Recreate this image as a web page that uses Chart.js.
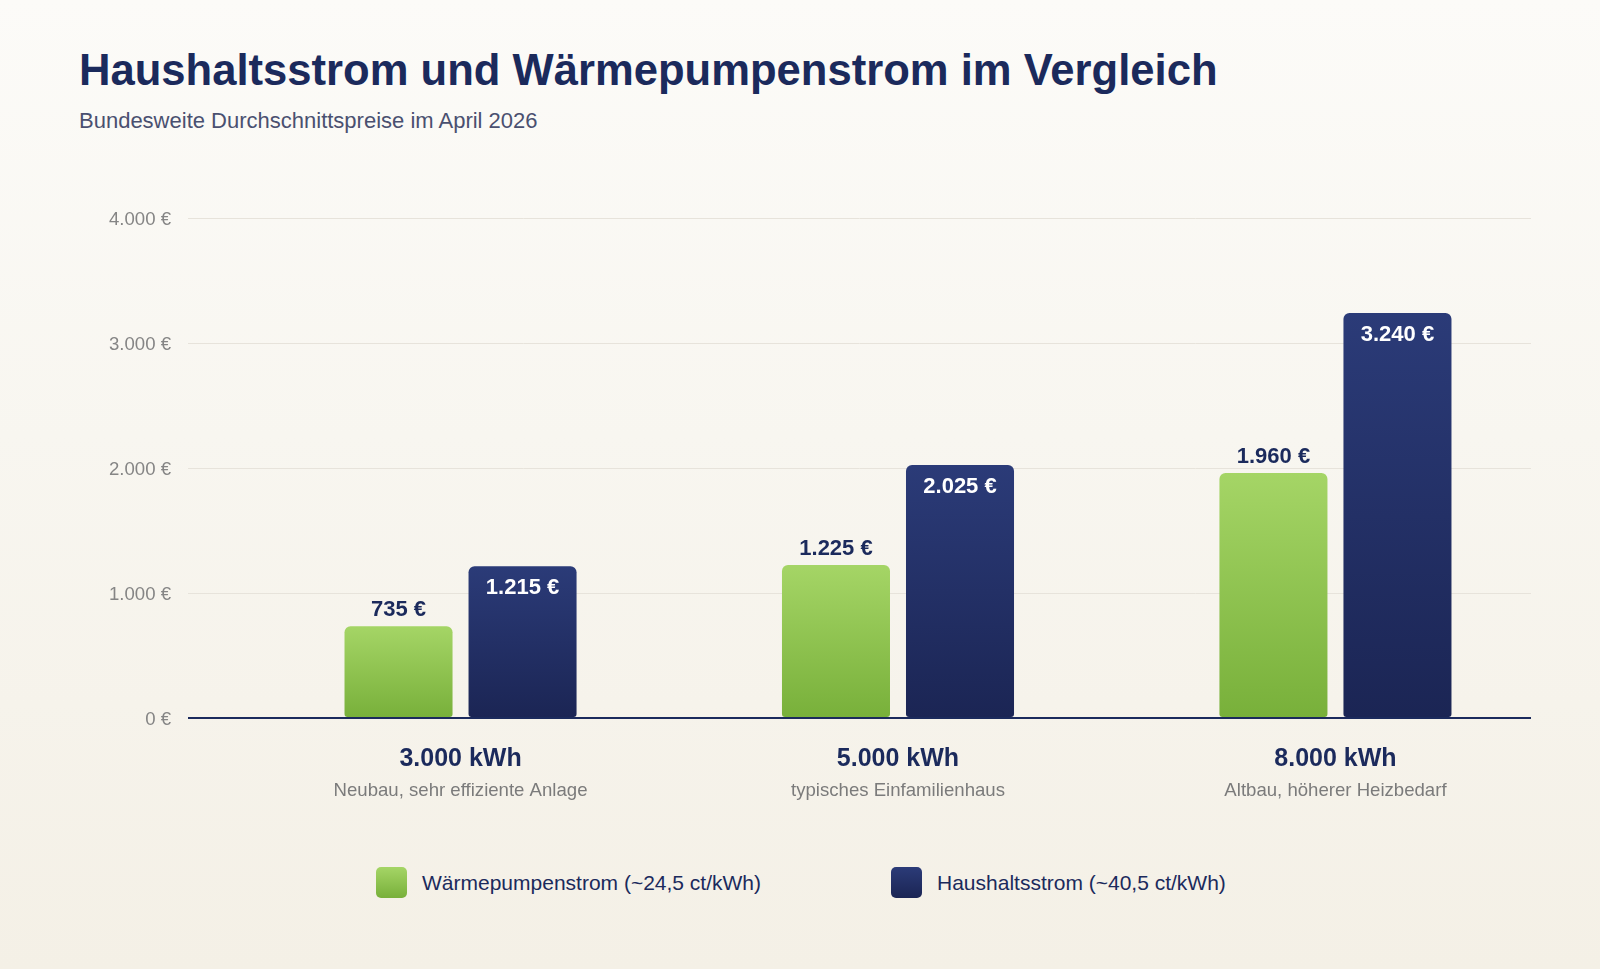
<!DOCTYPE html>
<html lang="de">
<head>
<meta charset="utf-8">
<title>Haushaltsstrom und Wärmepumpenstrom im Vergleich</title>
<script src="https://cdn.jsdelivr.net/npm/chart.js@4.4.1/dist/chart.umd.min.js"></script>
<style>
    html, body {
        margin: 0;
        padding: 0;
    }
    body {
        width: 1600px;
        height: 969px;
        position: relative;
        overflow: hidden;
        font-family: "Liberation Sans", Arial, Helvetica, sans-serif;
        background: linear-gradient(180deg, #fcfbf8 0%, #f8f6f0 45%, #f4f0e6 100%);
    }
    h1 {
        position: absolute;
        left: 79px;
        top: 49px;
        margin: 0;
        font-size: 43.6px;
        line-height: 43px;
        font-weight: bold;
        color: #1b2a5c;
        white-space: nowrap;
    }
    .subtitle {
        position: absolute;
        left: 79px;
        top: 110px;
        margin: 0;
        font-size: 22px;
        line-height: 22px;
        color: #4a5070;
        white-space: nowrap;
    }
    .chart-box {
        position: absolute;
        left: 0;
        top: 150px;
        width: 1600px;
        height: 680px;
    }
    .legend-item {
        position: absolute;
        top: 867px;
        height: 31px;
        display: flex;
        align-items: center;
        font-size: 21px;
        color: #1b2a5c;
        white-space: nowrap;
    }
    .legend-swatch {
        width: 31px;
        height: 31px;
        border-radius: 5px;
        margin-right: 15px;
    }
</style>
</head>
<body>
<h1>Haushaltsstrom und Wärmepumpenstrom im Vergleich</h1>
<p class="subtitle">Bundesweite Durchschnittspreise im April 2026</p>
<div class="chart-box"><canvas id="stromChart"></canvas></div>
<div class="legend-item" style="left:376px"><span class="legend-swatch" style="background:linear-gradient(180deg,#a5d566,#78b03a)"></span>Wärmepumpenstrom (~24,5 ct/kWh)</div>
<div class="legend-item" style="left:891px"><span class="legend-swatch" style="background:linear-gradient(180deg,#2b3b78,#1b2554)"></span>Haushaltsstrom (~40,5 ct/kWh)</div>
<script>
// Data
const categories = ['3.000 kWh', '5.000 kWh', '8.000 kWh'];
const descriptions = ['Neubau, sehr effiziente Anlage', 'typisches Einfamilienhaus', 'Altbau, höherer Heizbedarf'];
const seriesNames = ['Wärmepumpenstrom (~24,5 ct/kWh)', 'Haushaltsstrom (~40,5 ct/kWh)'];
const waermepumpeKosten = [735, 1225, 1960];
const haushaltKosten = [1215, 2025, 3240];
const yTicks = [0, 1000, 2000, 3000, 4000];

// Colours
const navy = '#1b2a5c';
const greenTop = '#a5d566', greenBottom = '#78b03a';
const navyTop = '#2b3b78', navyBottom = '#1b2554';
const tickGrey = '#858585';
const descGrey = '#7b7b7b';
const gridColor = '#e7e3db';

// 1.215 -> German thousands separator
const fmt = v => String(v).replace(/\B(?=(\d{3})+(?!\d))/g, '.');

// gradient per bar, from its top to the zero line
function barGradient(top, bottom) {
    return ctx => {
        if (ctx.type !== 'data' || !ctx.parsed) return bottom;
        const chart = ctx.chart;
        const yScale = chart.scales.y;
        if (!yScale) return bottom;
        const y0 = yScale.getPixelForValue(ctx.parsed.y);
        const y1 = yScale.getPixelForValue(0);
        if (!isFinite(y0) || !isFinite(y1) || y0 === y1) return bottom;
        const g = chart.ctx.createLinearGradient(0, y0, 0, y1);
        g.addColorStop(0, top);
        g.addColorStop(1, bottom);
        return g;
    };
}

// value labels: green above the bar, navy inside the bar top
const valueLabels = {
    id: 'valueLabels',
    afterDatasetsDraw(chart) {
        const ctx = chart.ctx;
        ctx.save();
        ctx.textAlign = 'center';
        ctx.textBaseline = 'alphabetic';
        ctx.font = 'bold 22px "Liberation Sans", Arial, sans-serif';
        chart.data.datasets.forEach((ds, di) => {
            const meta = chart.getDatasetMeta(di);
            meta.data.forEach((bar, i) => {
                const text = fmt(ds.data[i].y) + ' €';
                if (di === 0) {
                    ctx.fillStyle = navy;
                    ctx.fillText(text, bar.x, bar.y - 10);
                } else {
                    ctx.fillStyle = '#ffffff';
                    ctx.fillText(text, bar.x, bar.y + 28);
                }
            });
        });
        ctx.restore();
    }
};

// two-line category labels under the axis
const categoryLabels = {
    id: 'categoryLabels',
    afterDraw(chart) {
        const ctx = chart.ctx;
        const xScale = chart.scales.x;
        const bottom = chart.chartArea.bottom;
        ctx.save();
        ctx.textAlign = 'center';
        ctx.textBaseline = 'alphabetic';
        categories.forEach((cat, i) => {
            const x = xScale.getPixelForValue(i);
            ctx.font = 'bold 25px "Liberation Sans", Arial, sans-serif';
            ctx.fillStyle = navy;
            ctx.fillText(cat, x, bottom + 48);
            ctx.font = '18.6px "Liberation Sans", Arial, sans-serif';
            ctx.fillStyle = descGrey;
            ctx.fillText(descriptions[i], x, bottom + 78);
        });
        ctx.restore();
    }
};

const data = {
    datasets: [
        {
            label: seriesNames[0],
            data: waermepumpeKosten.map((v, i) => ({ x: i, y: v })),
            backgroundColor: barGradient(greenTop, greenBottom),
            borderRadius: { topLeft: 6, topRight: 6, bottomLeft: 3, bottomRight: 3 },
            borderSkipped: false,
            categoryPercentage: 0.567,
            barPercentage: 0.871
        },
        {
            label: seriesNames[1],
            data: haushaltKosten.map((v, i) => ({ x: i, y: v })),
            backgroundColor: barGradient(navyTop, navyBottom),
            borderRadius: { topLeft: 6, topRight: 6, bottomLeft: 3, bottomRight: 3 },
            borderSkipped: false,
            categoryPercentage: 0.567,
            barPercentage: 0.871
        }
    ]
};

const config = {
    type: 'bar',
    data,
    options: {
        responsive: true,
        maintainAspectRatio: false,
        animation: false,
        layout: {
            padding: { left: 79, right: 69, top: 68, bottom: 112 }
        },
        plugins: {
            legend: { display: false },
            tooltip: { enabled: false }
        },
        scales: {
            x: {
                type: 'linear',
                display: false,
                offset: false,
                grid: { offset: false },
                min: -0.623,
                max: 2.447,
                afterBuildTicks: scale => {
                    scale.ticks = categories.map((c, i) => ({ value: i }));
                }
            },
            y: {
                min: yTicks[0],
                max: yTicks[yTicks.length - 1],
                afterBuildTicks: scale => {
                    scale.ticks = yTicks.map(v => ({ value: v }));
                },
                afterFit: scale => {
                    scale.width = 109; // label column width
                },
                border: { display: false },
                grid: {
                    drawTicks: false,
                    color: ctx => ctx.tick && ctx.tick.value === 0 ? navy : gridColor,
                    lineWidth: ctx => ctx.tick && ctx.tick.value === 0 ? 2 : 1
                },
                ticks: {
                    padding: 17,
                    labelOffset: 2,
                    color: tickGrey,
                    font: { size: 18.6, family: '"Liberation Sans", Arial, sans-serif' },
                    callback: v => fmt(v) + ' €'
                }
            }
        }
    },
    plugins: [valueLabels, categoryLabels]
};

const stromChart = new Chart(document.getElementById('stromChart'), config);
</script>
</body>
</html>
